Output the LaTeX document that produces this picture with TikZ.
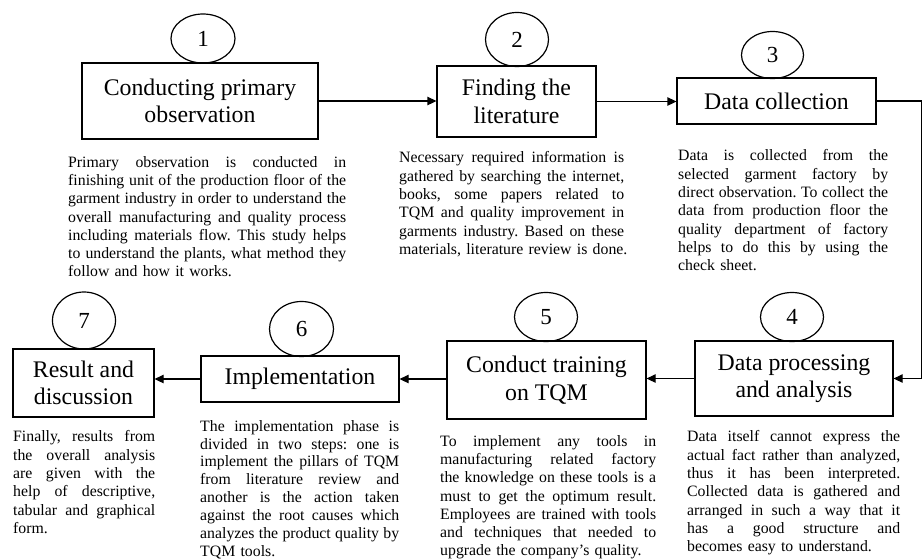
\documentclass[tikz,border=0pt]{standalone}
\usepackage{fontspec}
\setmainfont{Liberation Serif}
\usetikzlibrary{arrows.meta,shapes.geometric}
\frenchspacing

% one fully justified line of a description paragraph
\newcommand\jline[1]{\makebox[\hsize][s]{\spaceskip=0pt\xspaceskip=0pt #1}\\}

\tikzset{
  stepbox/.style={draw, line width=1.3pt, inner sep=0pt, align=center,
    font=\fontsize{23.8}{27.5}\selectfont},
  num/.style={draw, ellipse, line width=1.2pt, inner sep=0pt,
    font=\fontsize{23}{23}\selectfont},
  desc/.style={inner sep=0pt, anchor=north west, align=left,
    font={\setlength\parindent{0pt}\fontsize{15.8}{18.3}\selectfont}},
  flow/.style={line width=1.3pt, -{Triangle[length=9pt,width=8.5pt]}},
}

\begin{document}
\begin{tikzpicture}[x=1pt,y=-1pt]
\useasboundingbox (0,0) rectangle (922,560);

% ---- top row: steps 1 to 3 ----
\node[stepbox, minimum width=236pt, minimum height=76pt] (b1) at (200,101)
  {Conducting primary\\observation};
\node[stepbox, minimum width=159pt, minimum height=71pt] (b2) at (516.5,101.5)
  {Finding the\\literature};
\node[stepbox, minimum width=199pt, minimum height=46pt] (b3) at (776.5,101)
  {Data collection};

\node[num, minimum width=64pt, minimum height=49pt] (c1) at (203,38.5) {1};
\node[num, minimum width=63pt, minimum height=54pt] (c2) at (517,39.5) {2};
\node[num, minimum width=62pt, minimum height=47pt] (c3) at (772.5,55) {3};

% ---- bottom row: steps 4 to 7 ----
\node[stepbox, minimum width=198pt, minimum height=75pt] (b4) at (794,378.5)
  {Data processing\\and analysis};
\node[stepbox, minimum width=199pt, minimum height=78pt] (b5) at (546.5,380)
  {Conduct training\\on TQM};
\node[stepbox, minimum width=198pt, minimum height=46pt] (b6) at (300,379)
  {Implementation};
\node[stepbox, minimum width=141pt, minimum height=68pt] (b7) at (83.5,383)
  {Result and\\discussion};

\node[num, minimum width=63pt, minimum height=49pt] (c4) at (792,317) {4};
\node[num, minimum width=63pt, minimum height=49pt] (c5) at (546,317) {5};
\node[num, minimum width=64pt, minimum height=55pt] (c6) at (301.5,329) {6};
\node[num, minimum width=63pt, minimum height=57pt] (c7) at (84,320.5) {7};

% ---- descriptions ----
\node[desc, text width=278pt] (d1) at (68,156) {%
\jline{Primary observation is conducted in}
\jline{finishing unit of the production floor of the}
\jline{garment industry in order to understand the}
\jline{overall manufacturing and quality process}
\jline{including materials flow. This study helps}
\jline{to understand the plants, what method they}
follow and how it works.};

\node[desc, text width=225pt] (d2) at (399,151.5) {%
\jline{Necessary required information is}
\jline{gathered by searching the internet,}
\jline{books, some papers related to}
\jline{TQM and quality improvement in}
\jline{garments industry. Based on these}
\mbox{materials, literature review is done.}};

\node[desc, text width=210pt] (d3) at (678,149.5) {%
\jline{Data is collected from the}
\jline{selected garment factory by}
\jline{direct observation. To collect the}
\jline{data from production floor the}
\jline{quality department of factory}
\jline{helps to do this by using the}
check sheet.};

\node[desc, text width=213pt] (d4) at (687,430.5) {%
\jline{Data itself cannot express the}
\jline{actual fact rather than analyzed,}
\jline{thus it has been interpreted.}
\jline{Collected data is gathered and}
\jline{arranged in such a way that it}
\jline{has a good structure and}
becomes easy to understand.};

\node[desc, text width=216pt] (d5) at (440,435) {%
\jline{To implement any tools in}
\jline{manufacturing related factory}
\jline{the knowledge on these tools is a}
\jline{must to get the optimum result.}
\jline{Employees are trained with tools}
\jline{and techniques that needed to}
upgrade the company's quality.};

\node[desc, text width=199pt, font={\setlength\parindent{0pt}\fontsize{15.8}{17.85}\selectfont}]
  (d6) at (200,420) {%
\jline{The implementation phase is}
\jline{divided in two steps: one is}
\jline{implement the pillars of TQM}
\jline{from literature review and}
\jline{another is the action taken}
\jline{against the root causes which}
\jline{analyzes the product quality by}
TQM tools.};

\node[desc, text width=142pt] (d7) at (13,430.5) {%
\jline{Finally, results from}
\jline{the overall analysis}
\jline{are given with the}
\jline{help of descriptive,}
\jline{tabular and graphical}
form.};

% ---- connectors ----
\coordinate (turn) at (921.3,101);
\draw[flow] (b1.east) -- (b1.east -| b2.west);
\draw[flow] (b2.east) -- (b2.east -| b3.west);
\draw[flow] (b3.east) -- (turn) |- (b4.east);
\draw[flow] (b4.west) -- (b4.west -| b5.east);
\draw[flow] (b5.west |- b6.east) -- (b6.east);
\draw[flow] (b6.west) -- (b6.west -| b7.east);
\end{tikzpicture}
\end{document}
